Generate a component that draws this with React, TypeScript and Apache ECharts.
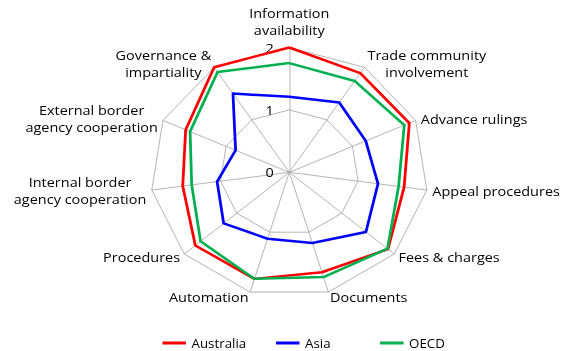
import React, { useEffect, useRef } from 'react';
import * as echarts from 'echarts';

// Clockwise order, starting at the top
const indicatorNames = [
  'Information\navailability',
  'Trade community\ninvolvement',
  'Advance rulings',
  'Appeal procedures',
  'Fees & charges',
  'Documents',
  'Automation',
  'Procedures',
  'Internal border\nagency cooperation',
  'External border\nagency cooperation',
  'Governance &\nimpartiality',
];
const australia = [2.0, 1.89, 1.9, 1.67, 1.88, 1.67, 1.78, 1.79, 1.55, 1.64, 2.0];
const asia = [1.21, 1.33, 1.21, 1.29, 1.46, 1.18, 1.11, 1.25, 1.05, 0.85, 1.5];
const oecd = [1.75, 1.74, 1.82, 1.59, 1.87, 1.75, 1.78, 1.69, 1.42, 1.57, 1.91];
const seriesNames = ['Australia', 'Asia', 'OECD'];
const seriesColors = ['#ff0000', '#0000ff', '#00b050'];
const axisMin = 0;
const axisMax = 2;

const FONT = 'Open Sans';
const SCALE_X = 1.1131;
const W = 504;
const H = 351;

// ECharts radar runs counter-clockwise; reorder so the picture runs clockwise
const ccw = <T,>(arr: T[]): T[] => [arr[0], ...arr.slice(1).reverse()];

export default function App() {
  const ref = useRef<HTMLDivElement>(null);
  useEffect(() => {
    if (!ref.current) return;
    const chart = echarts.init(ref.current, undefined, { renderer: 'svg' });
    const inds = ccw(indicatorNames).map((name, i) => {
      const o: any = { name, min: axisMin, max: axisMax };
      if (i === 0) {
        o.nameGap = 9;
        o.axisLabel = { show: true };
      }
      return o;
    });
    const values = [australia, asia, oecd];
    const legendLefts = [146, 248, 341.5];
    chart.setOption({
      animation: false,
      legend: seriesNames.map((n, i) => ({
        data: [n],
        left: legendLefts[i],
        top: 337,
        padding: 0,
        icon: 'rect',
        itemWidth: 21,
        itemHeight: 3,
        selectedMode: false,
        textStyle: { fontFamily: FONT, fontSize: 12, color: '#000' },
      })),
      radar: {
        center: [259.9, 172.3],
        radius: 124.8,
        startAngle: 90,
        splitNumber: 2,
        nameGap: 5,
        shape: 'polygon',
        axisName: {
          color: '#000',
          fontFamily: FONT,
          fontSize: 13,
          lineHeight: 17,
          formatter: (name: string) =>
            name
              .split('\n')
              .map((l) => `{c|${l}}`)
              .join('\n'),
          rich: {
            c: {
              align: 'center',
              color: '#000',
              fontFamily: FONT,
              fontSize: 13,
              lineHeight: 17,
            },
          },
        },
        axisLine: { lineStyle: { color: '#a6a6a6', width: 0.8 } },
        splitLine: { lineStyle: { color: '#a6a6a6', width: 0.8 } },
        splitArea: { show: false },
        axisTick: { show: false },
        axisLabel: {
          show: false,
          color: '#000',
          fontFamily: FONT,
          fontSize: 13,
          margin: 14,
        },
        indicator: inds,
      },
      series: [
        {
          type: 'radar',
          symbol: 'none',
          data: seriesNames.map((n, i) => ({
            name: n,
            value: ccw(values[i]),
            lineStyle: { color: seriesColors[i], width: 2.5 },
            itemStyle: { color: seriesColors[i] },
          })),
        },
      ],
    });
    return () => chart.dispose();
  }, []);
  return (
    <div
      ref={ref}
      style={{
        position: 'fixed',
        left: 0,
        top: 0,
        width: W,
        height: H,
        transform: `scaleX(${SCALE_X})`,
        transformOrigin: '0 0',
      }}
    />
  );
}
